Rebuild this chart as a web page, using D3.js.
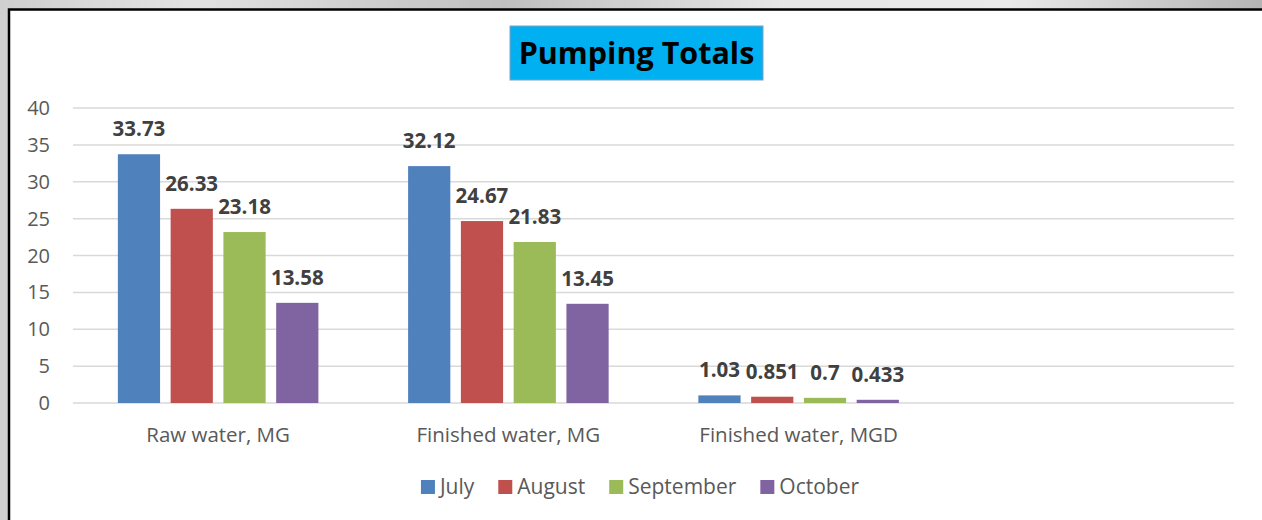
<!DOCTYPE html>
<html>
<head>
<meta charset="utf-8">
<script src="https://cdn.jsdelivr.net/npm/d3@7"></script>
<style>
  body { margin: 0; padding: 0; overflow: hidden; }
  text { font-family: "Open Sans", "Noto Sans", sans-serif; }
</style>
</head>
<body>
<div id="chart"></div>
<script>
// data
var categories = ["Raw water, MG", "Finished water, MG", "Finished water, MGD", ""];
var months = ["July", "August", "September", "October"];
var july      = [33.73, 32.12, 1.03];
var august    = [26.33, 24.67, 0.851];
var september = [23.18, 21.83, 0.7];
var october   = [13.58, 13.45, 0.433];
var yTicks = [0, 5, 10, 15, 20, 25, 30, 35, 40];
var colors = ["#4f81bd", "#c0504d", "#9bbb59", "#8064a2"];

var series = [july, august, september, october];

var width = 1262, height = 520;

var svg = d3.select("#chart").append("svg")
    .attr("width", width)
    .attr("height", height);

/* grey backdrop behind the panel */
var defs = svg.append("defs");
var bg = defs.append("linearGradient").attr("id", "bg")
    .attr("x1", "0%").attr("y1", "0%").attr("x2", "100%").attr("y2", "0%");
[["0%", "#cfcfcf"], ["15%", "#e2e2e2"], ["40%", "#bfbfbf"], ["62%", "#e6e6e6"], ["80%", "#e9e9e9"], ["100%", "#b4b4b4"]]
  .forEach(function(s) { bg.append("stop").attr("offset", s[0]).attr("stop-color", s[1]); });

svg.append("rect").attr("width", width).attr("height", height).attr("fill", "url(#bg)");
svg.append("rect").attr("x", 9).attr("y", 9).attr("width", width).attr("height", height)
    .attr("fill", "#fff");
svg.append("path")
    .attr("d", "M9," + height + "V9.5H" + width)
    .attr("fill", "none").attr("stroke", "#000").attr("stroke-width", 2.5);

/* scales */
var x0 = d3.scaleBand().domain(categories).range([73, 1234]);
var x1 = d3.scaleBand().domain(months).range([0, x0.bandwidth()])
    .paddingInner(0.2).paddingOuter(0.85);
var y = d3.scaleLinear().domain([0, 40]).range([403, 108]);

/* gridlines + tick labels */
var grid = svg.append("g");
grid.selectAll("line").data(yTicks).enter().append("line")
    .attr("x1", 73).attr("x2", 1234)
    .attr("y1", function(d) { return y(d); })
    .attr("y2", function(d) { return y(d); })
    .attr("stroke", "#d9d9d9").attr("stroke-width", 1.5);
grid.selectAll("text").data(yTicks).enter().append("text")
    .attr("x", 50)
    .attr("y", function(d) { return y(d); })
    .attr("dy", "0.35em")
    .attr("text-anchor", "end")
    .attr("font-size", 20)
    .attr("fill", "#595959")
    .text(function(d) { return d; });

/* bars */
var groups = svg.selectAll(".grp").data(series).enter().append("g")
    .attr("class", "grp")
    .attr("fill", function(d, i) { return colors[i]; });

groups.each(function(vals, si) {
  var g = d3.select(this);
  var rows = vals.map(function(v, ci) { return {cat: categories[ci], v: v}; });
  g.selectAll("rect").data(rows).enter().append("rect")
      .attr("x", function(d) { return x0(d.cat) + x1(months[si]); })
      .attr("y", function(d) { return y(d.v); })
      .attr("width", x1.bandwidth())
      .attr("height", function(d) { return y(0) - y(d.v); });
  g.selectAll("text").data(rows).enter().append("text")
      .attr("x", function(d) { return x0(d.cat) + x1(months[si]) + x1.bandwidth() / 2; })
      .attr("y", function(d) { return y(d.v) - 18; })
      .attr("text-anchor", "middle")
      .attr("font-size", 20.5)
      .attr("font-weight", "bold")
      .attr("fill", "#404040")
      .text(function(d) { return String(d.v); });
});

/* category labels */
svg.append("g").selectAll("text").data(categories).enter().append("text")
    .attr("x", function(d) { return x0(d) + x0.bandwidth() / 2; })
    .attr("y", 442)
    .attr("text-anchor", "middle")
    .attr("font-size", 20.5)
    .attr("fill", "#595959")
    .text(function(d) { return d; });

/* title */
var title = svg.append("g");
title.append("rect")
    .attr("x", 510).attr("y", 26).attr("width", 253).attr("height", 54)
    .attr("fill", "#00b0f0").attr("stroke", "#7f9fc8").attr("stroke-width", 1);
title.append("text")
    .attr("x", 636.5).attr("y", 64)
    .attr("text-anchor", "middle")
    .attr("font-size", 30.5)
    .attr("font-weight", "bold")
    .attr("fill", "#000")
    .text("Pumping Totals");

/* legend */
var legend = svg.append("g");
var items = legend.selectAll("g").data(months).enter().append("g");
items.append("rect")
    .attr("width", 14).attr("height", 14)
    .attr("y", 480)
    .attr("fill", function(d, i) { return colors[i]; });
items.append("text")
    .attr("x", 19).attr("y", 487).attr("dy", "0.35em")
    .attr("font-size", 21)
    .attr("fill", "#595959")
    .text(function(d) { return d; });
var xpos = 0, offs = [];
items.each(function() {
  offs.push(xpos);
  xpos += 19 + d3.select(this).select("text").node().getComputedTextLength() + 24;
});
var total = xpos - 24, start = 640 - total / 2;
items.attr("transform", function(d, i) { return "translate(" + (start + offs[i]) + ",0)"; });
</script>
</body>
</html>
